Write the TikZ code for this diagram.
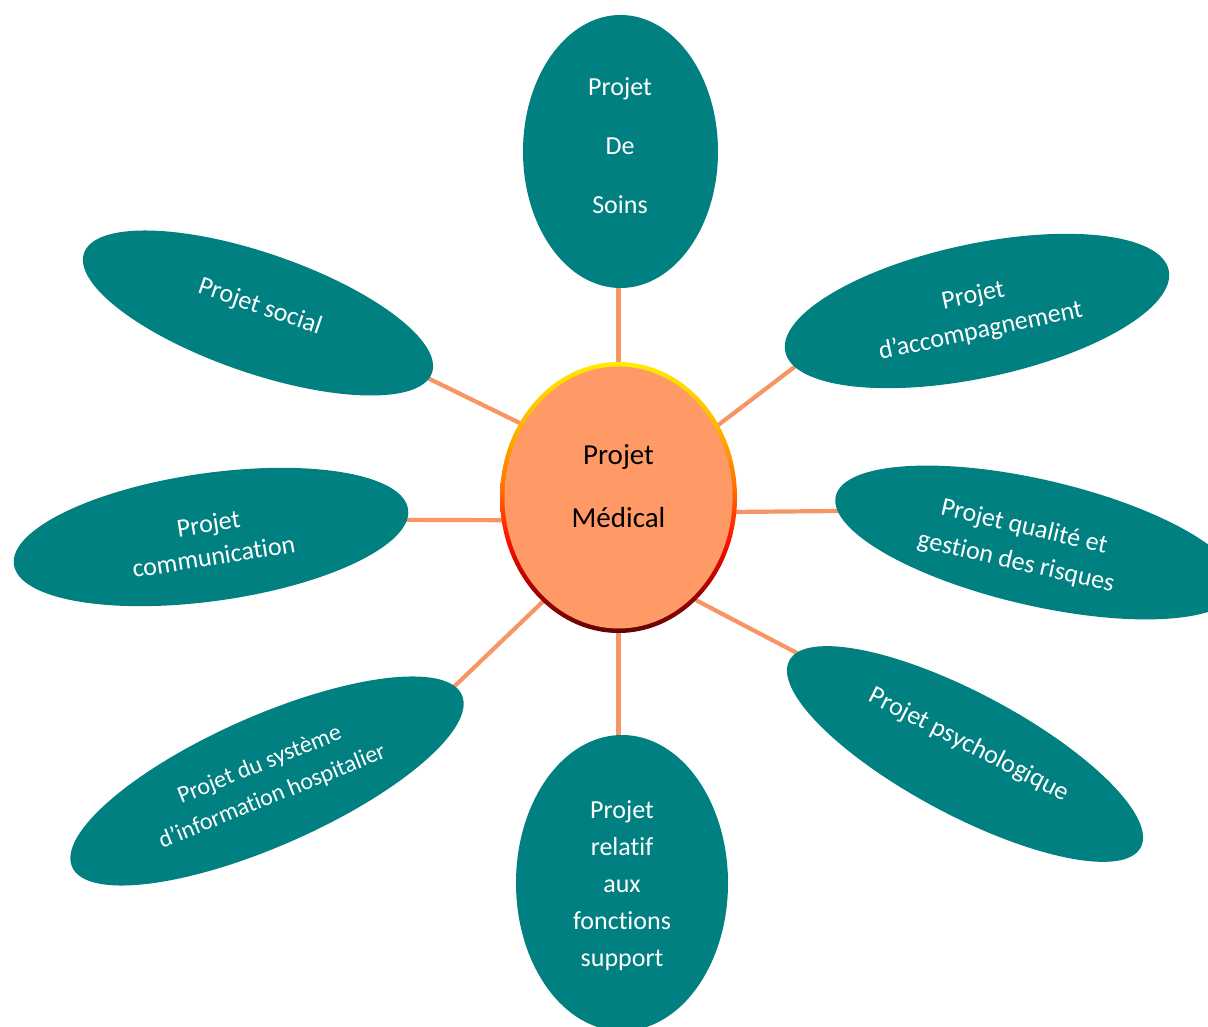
\documentclass[tikz,border=0pt]{standalone}
\usepackage{fontspec}
\setmainfont{Carlito}[Ligatures={NoCommon}]
\usetikzlibrary{shapes.geometric}
\definecolor{teal0}{RGB}{0,128,128}
\definecolor{salmon0}{RGB}{255,153,102}
\definecolor{conn0}{RGB}{247,150,100}
\definecolor{ringA}{RGB}{95,5,5}
\definecolor{ringB}{RGB}{165,0,0}
\definecolor{ringC}{RGB}{255,15,0}
\definecolor{ringD}{RGB}{255,115,0}
\definecolor{ringE}{RGB}{255,175,0}
\definecolor{ringF}{RGB}{255,238,0}
\pgfdeclareverticalshading{ringshade}{100bp}{color(0bp)=(ringA); color(25bp)=(ringA); color(33bp)=(ringB); color(42bp)=(ringC); color(52bp)=(ringD); color(62bp)=(ringE); color(75bp)=(ringF); color(100bp)=(ringF)}
\pgfdeclarelayer{background}
\pgfsetlayers{background,main}
\tikzset{
  sat/.style={ellipse, fill=teal0, draw=none, inner sep=0pt, outer sep=0pt},
  sattext/.style={text=white, align=center, inner sep=0pt},
  conn/.style={draw=conn0, line width=4.2pt, shorten <=-2pt, shorten >=-2pt},
}
\begin{document}
\begin{tikzpicture}[x=1pt,y=1pt]
\useasboundingbox (0,0) rectangle (1208,1026);
\begin{pgfonlayer}{background}
\fill[white] (0,0) rectangle (1208,1026);
\end{pgfonlayer}

% central node
\node[ellipse, minimum width=237pt, minimum height=271pt, inner sep=0pt, outer sep=0pt,
      shade, shading=ringshade,
      path picture={\fill[salmon0] (path picture bounding box.center) ellipse (114pt and 131pt);}]
      (c) at (618.5,528.5) {};
\node[align=center, inner sep=0pt, font=\fontsize{29}{63}\selectfont] (ct) at (618.5,539.5) {Projet\\Médical};

% satellites
\node[sat, minimum width=195pt, minimum height=273pt] (soins) at (620.5,874.5) {};
\node[sattext, font=\fontsize{26}{59}\selectfont] (soinsT) at (620,880) {Projet\\De\\Soins};

\node[sat, minimum width=392pt, minimum height=134pt, rotate=12] (acc) at (977,715) {};
\node[sattext, font=\fontsize{26}{36}\selectfont, rotate=12] (accT) at (977,712) {Projet\\d’accompagnement};

\node[sat, minimum width=412pt, minimum height=126pt, rotate=-13] (qual) at (1036.5,483.5) {};
\node[sattext, font=\fontsize{26}{36}\selectfont, rotate=-13] (qualT) at (1020,481) {Projet qualité et\\gestion des risques};

\node[sat, minimum width=398pt, minimum height=122pt, rotate=-28] (psy) at (965,272) {};
\node[sattext, font=\fontsize{26}{36}\selectfont, rotate=-27] (psyT) at (969,281) {Projet psychologique};

\node[sat, minimum width=212pt, minimum height=296pt] (supp) at (622,143) {};
\node[sattext, font=\fontsize{26}{37}\selectfont] (suppT) at (622,140) {Projet\\relatif\\aux\\fonctions\\support};

\node[sat, minimum width=426pt, minimum height=130pt, rotate=23.8] (sys) at (267,245) {};
\node[sattext, font=\fontsize{24}{34}\selectfont, rotate=22] (sysT) at (266,245) {Projet du système\\d’information hospitalier};

\node[sat, minimum width=398pt, minimum height=128pt, rotate=8] (com) at (211,489) {};
\node[sattext, font=\fontsize{26}{33}\selectfont, rotate=9] (comT) at (211,486) {Projet\\communication};

\node[sat, minimum width=368pt, minimum height=120pt, rotate=-19] (soc) at (258,713) {};
\node[sattext, font=\fontsize{26}{36}\selectfont, rotate=-19] (socT) at (260,719) {Projet social};

% connectors
\begin{pgfonlayer}{background}
\draw[conn] (c.north) -- (c.north |- soins.south);
\draw[conn] (c.36) -- (acc.185);
\draw[conn] (c.353) -- (qual.184);
\draw[conn] (c.307) -- (psy.177);
\draw[conn] (c.south) -- (c.south |- supp.north);
\draw[conn] (c.234) -- (sys.3);
\draw[conn] (c.191) -- (com.357);
\draw[conn] (c.143) -- (soc.358);
\end{pgfonlayer}
\end{tikzpicture}
\end{document}
